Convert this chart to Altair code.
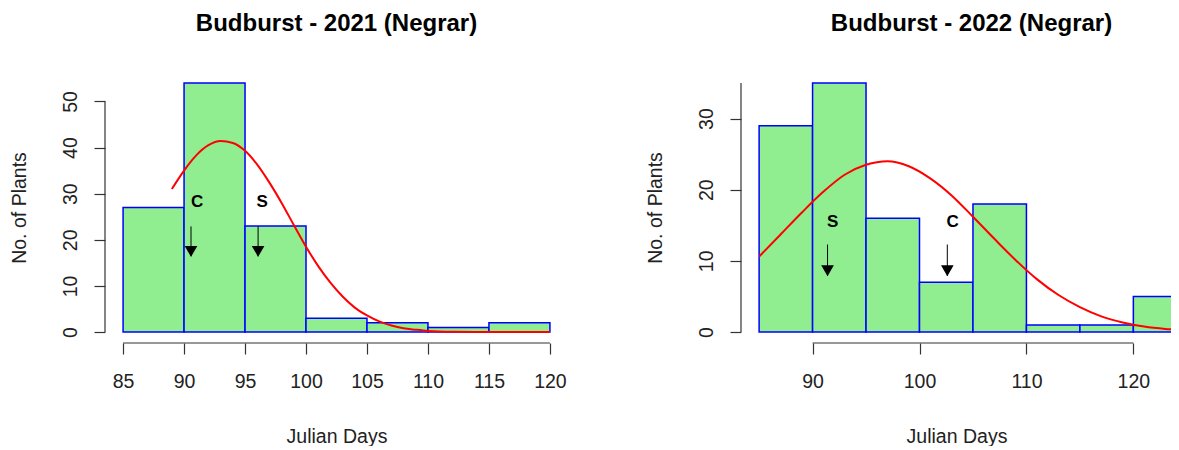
import altair as alt
import pandas as pd

FONT = "Liberation Sans, Arial, Helvetica, sans-serif"

# ---------------- 2021 panel data ----------------
title21 = "Budburst - 2021 (Negrar)"
bin_start21 = [85, 90, 95, 100, 105, 110, 115]
bin_end21 = [90, 95, 100, 105, 110, 115, 120]
counts21 = [27, 54, 23, 3, 2, 1, 2]
curve_x21 = [89, 90, 91, 92, 93, 94, 95, 96, 97, 98, 99, 100, 101, 102, 103,
             104, 105, 106, 107, 108, 109, 110, 112, 115, 120]
curve_y21 = [31.0, 35.0, 38.3, 40.5, 41.4, 41.0, 39.3, 36.3, 32.4, 28.0, 23.2,
             18.5, 14.3, 10.7, 7.7, 5.3, 3.6, 2.3, 1.4, 0.8, 0.5, 0.25, 0.06,
             0.01, 0.0]
marks21 = ["C", "S"]
arrow_x21 = [90.57, 96.07]
label_x21 = [91.07, 96.4]
label_y21 = [28.1, 28.1]
arrow_top21 = [22.9, 22.9]
arrow_tip21 = [16.4, 16.4]
xticks21 = [85, 90, 95, 100, 105, 110, 115, 120]
yticks21 = [0, 10, 20, 30, 40, 50]

# ---------------- 2022 panel data ----------------
title22 = "Budburst - 2022 (Negrar)"
bin_start22 = [85, 90, 95, 100, 105, 110, 115, 120]
bin_end22 = [90, 95, 100, 105, 110, 115, 120, 125]
counts22 = [29, 35, 16, 7, 18, 1, 1, 5]
curve_x22 = [85, 87, 89, 91, 93, 95, 97, 99, 101, 103, 105, 107, 109, 111,
             113, 115, 117, 119, 121, 123, 124]
curve_y22 = [10.6, 13.7, 16.8, 19.7, 22.1, 23.5, 24.0, 23.3, 21.6, 19.2, 16.2,
             13.1, 10.1, 7.4, 5.2, 3.5, 2.2, 1.35, 0.78, 0.44, 0.33]
marks22 = ["S", "C"]
arrow_x22 = [91.4, 102.6]
label_x22 = [91.87, 103.1]
label_y22 = [15.5, 15.5]
arrow_top22 = [12.3, 12.3]
arrow_tip22 = [7.9, 7.9]
xticks22 = [90, 100, 110, 120]
yticks22 = [0, 5, 10, 15, 20, 25, 30, 35]
ylabels_hidden22 = [15, 25, 35]

PLOT_H = 269


def panel(title, bs, be, counts, cx, cy, marks, ax, lx, ly, atop, atip,
          xdom, ydom, xticks, yticks, hidden, width, title_dx):
    bars = pd.DataFrame({"start": bs, "end": be, "count": counts,
                         "zero": [0] * len(counts)})
    curve = pd.DataFrame({"start": cx, "count": cy})
    arr = pd.DataFrame({"m": marks, "ax": ax, "lx": lx, "ly": ly,
                        "top": atop, "tip": atip})
    xaxis_line = pd.DataFrame({"a": [xticks[0]], "b": [xticks[-1]]})
    yaxis_line = pd.DataFrame({"a": [yticks[0]], "b": [yticks[-1]]})

    xs = alt.Scale(domain=xdom, nice=False, zero=False)
    ys = alt.Scale(domain=ydom, nice=False, zero=False)

    if hidden:
        cond = " || ".join(f"datum.value == {h}" for h in hidden)
        label_expr = f"({cond}) ? '' : datum.label"
    else:
        label_expr = "datum.label"

    x_axis = alt.Axis(values=xticks, domain=False, grid=False, tickSize=11,
                      tickColor="#333333", tickWidth=1.2, offset=1,
                      labelFont=FONT, labelFontSize=19.5, labelColor="#222222",
                      labelPadding=18, labelFlush=False, labelOverlap=False,
                      title="Julian Days", titleFont=FONT, titleFontSize=19.5,
                      titleFontWeight="normal", titleColor="#222222",
                      titlePadding=37)
    y_axis = alt.Axis(values=yticks, domain=False, grid=False, tickSize=11,
                      tickColor="#333333", tickWidth=1.2, offset=1,
                      labelFont=FONT, labelFontSize=19.5, labelColor="#222222",
                      labelAngle=270, labelAlign="center", labelBaseline="bottom",
                      labelPadding=14, labelFlush=False, labelOverlap=False,
                      labelExpr=label_expr,
                      title="No. of Plants", titleFont=FONT, titleFontSize=19.5,
                      titleFontWeight="normal", titleColor="#222222",
                      titlePadding=31)

    bar_layer = alt.Chart(bars).mark_rect(
        fill="#90EE90", stroke="#0000FF", strokeWidth=1.5, clip=True
    ).encode(
        x=alt.X("start:Q", scale=xs, axis=x_axis),
        x2="end:Q",
        y=alt.Y("count:Q", scale=ys, axis=y_axis),
        y2="zero:Q",
    )

    curve_layer = alt.Chart(curve).mark_line(
        color="#FF0000", strokeWidth=2, interpolate="monotone", clip=True
    ).encode(
        x=alt.X("start:Q", scale=xs),
        y=alt.Y("count:Q", scale=ys),
    )

    shaft = alt.Chart(arr).mark_rule(color="#000000", strokeWidth=1).encode(
        x=alt.X("ax:Q", scale=xs, title="Julian Days"),
        y=alt.Y("top:Q", scale=ys, title="No. of Plants"),
        y2="tip:Q",
    )
    head = alt.Chart(arr).mark_point(
        shape="triangle-down", filled=True, color="#000000", size=160,
        opacity=1, yOffset=-5
    ).encode(
        x=alt.X("ax:Q", scale=xs, title="Julian Days"),
        y=alt.Y("tip:Q", scale=ys, title="No. of Plants"),
    )
    text = alt.Chart(arr).mark_text(
        font=FONT, fontSize=17, fontWeight="bold", color="#000000",
        baseline="middle", align="center"
    ).encode(
        x=alt.X("lx:Q", scale=xs, title="Julian Days"),
        y=alt.Y("ly:Q", scale=ys, title="No. of Plants"),
        text="m:N",
    )

    xline = alt.Chart(xaxis_line).mark_rule(color="#333333", strokeWidth=1.2).encode(
        x=alt.X("a:Q", scale=xs, title="Julian Days"),
        x2="b:Q",
        y=alt.value(PLOT_H + 1),
    )
    yline = alt.Chart(yaxis_line).mark_rule(color="#333333", strokeWidth=1.2).encode(
        y=alt.Y("a:Q", scale=ys, title="No. of Plants"),
        y2="b:Q",
        x=alt.value(-1),
    )

    return alt.layer(bar_layer, curve_layer, shaft, head, text, xline, yline).properties(
        width=width, height=PLOT_H,
        title=alt.TitleParams(title, font=FONT, fontSize=24, fontWeight="bold",
                              color="#000000", anchor="middle", offset=37,
                              dx=title_dx),
    )


left = panel(title21, bin_start21, bin_end21, counts21, curve_x21, curve_y21,
             marks21, arrow_x21, label_x21, label_y21, arrow_top21, arrow_tip21,
             [83.6, 121.4], [-2.16, 56.16], xticks21, yticks21, [], 461, 0)
right = panel(title22, bin_start22, bin_end22, counts22, curve_x22, curve_y22,
              marks22, arrow_x22, label_x22, label_y22, arrow_top22, arrow_tip22,
              [83.4, 123.52], [-1.4, 36.4], xticks22, yticks22, ylabels_hidden22,
              429, 15)

chart = alt.hconcat(left, right, spacing=78).properties(
    padding={"left": 0, "top": 4, "right": 0, "bottom": 0}
).configure(background="#FFFFFF").configure_view(stroke=None)

chart.save("out.html", embed_options={"renderer": "svg", "actions": False})
